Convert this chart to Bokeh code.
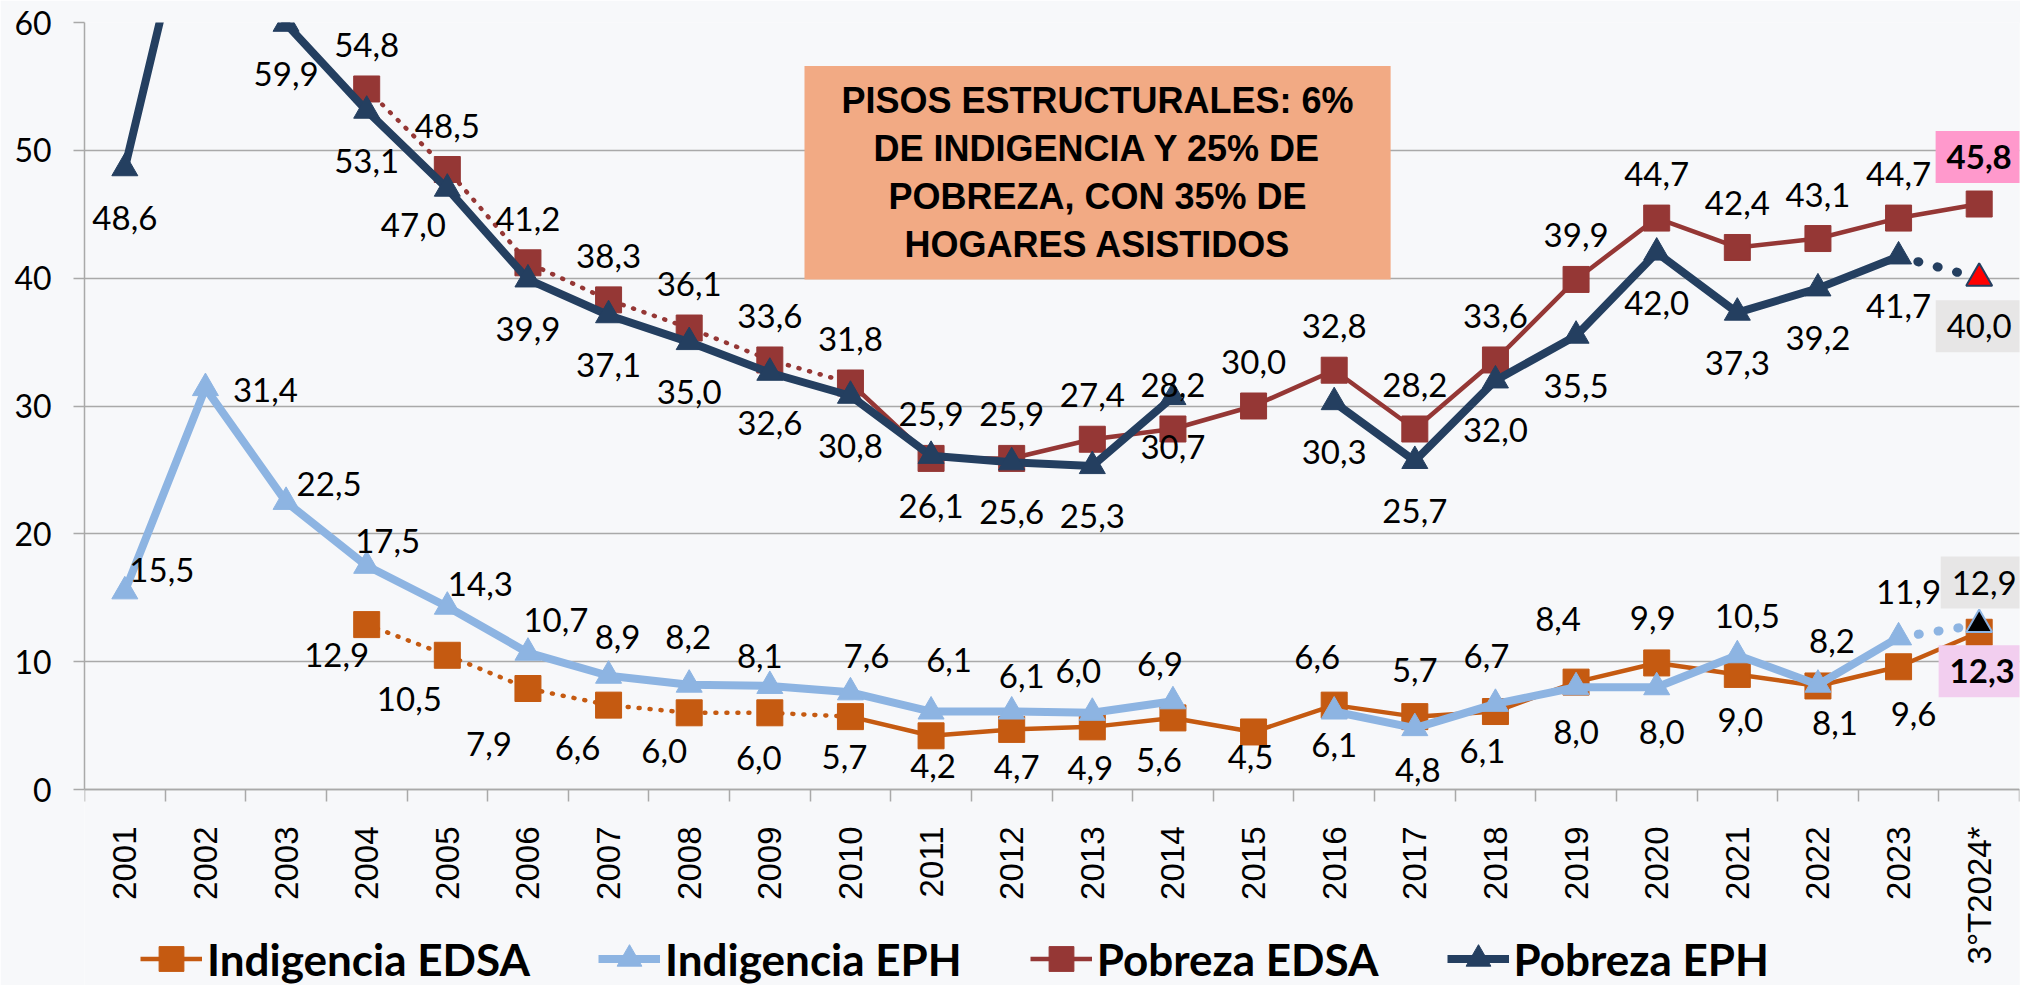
import math
from bokeh.plotting import figure
from bokeh.models import (ColumnDataSource, Range1d, FixedTicker, Legend, LegendItem,
                          Label, BoxAnnotation)
from bokeh.embed import file_html
from bokeh.resources import INLINE
from bokeh.core.properties import value

nan = float("nan")

# ---------------- data ----------------
categories = ["2001", "2002", "2003", "2004", "2005", "2006", "2007", "2008", "2009",
              "2010", "2011", "2012", "2013", "2014", "2015", "2016", "2017", "2018",
              "2019", "2020", "2021", "2022", "2023", "3°T2024*"]

indigencia_edsa = [nan, nan, nan, 12.9, 10.5, 7.9, 6.6, 6.0, 6.0, 5.7, 4.2, 4.7, 4.9, 5.6,
                   4.5, 6.6, 5.7, 6.1, 8.4, 9.9, 9.0, 8.1, 9.6, 12.3]
indigencia_eph = [15.5, 31.4, 22.5, 17.5, 14.3, 10.7, 8.9, 8.2, 8.1, 7.6, 6.1, 6.1, 6.0, 6.9,
                  nan, 6.1, 4.8, 6.7, 8.0, 8.0, 10.5, 8.2, 11.9, 12.9]
pobreza_edsa = [nan, nan, nan, 54.8, 48.5, 41.2, 38.3, 36.1, 33.6, 31.8, 25.9, 25.9, 27.4, 28.2,
                30.0, 32.8, 28.2, 33.6, 39.9, 44.7, 42.4, 43.1, 44.7, 45.8]
pobreza_eph = [48.6, 75.0, 59.9, 53.1, 47.0, 39.9, 37.1, 35.0, 32.6, 30.8, 26.1, 25.6, 25.3, 30.7,
               nan, 30.3, 25.7, 32.0, 35.5, 42.0, 37.3, 39.2, 41.7, 40.0]

y_ticks = list(range(0, 61, 10))
note_lines = ["PISOS ESTRUCTURALES: 6%", "DE INDIGENCIA Y 25% DE",
              "POBREZA, CON 35% DE", "HOGARES ASISTIDOS"]

# ---------------- styling / layout ----------------
BG = "#F7F8FA"
GRID = "#A9A9A9"
C_IND_EDSA = "#C55A11"
C_IND_EPH = "#8DB4E2"
C_POB_EDSA = "#953735"
C_POB_EPH = "#243F60"
LABEL_FONT = "Lato"
Y_MAX = y_ticks[-1]

FIG_W, FIG_H = 2020, 985
BORDER_L, BORDER_T, BORDER_R = 84, 22, 1
ZERO_PX = 789                       # pixel row of the value 0 (x axis)
Y_LO = -(FIG_H - ZERO_PX) * Y_MAX / (ZERO_PX - BORDER_T)   # room below axis for labels/legend

N = len(categories)
LAST = N - 1
xs = list(range(N))
SPLIT = categories.index("2010")      # EDSA old (dotted) / new (solid) series
PREV = LAST - 1                        # EPH projection (dotted) starts here

# label offsets in screen px (dx, dy; dy positive = down)
POB_EDSA_DEF = (0, -44)
POB_EPH_DEF = (0, 50)
POB_EPH_OVR = {4: (-34, 36)}
IND_EPH_OFF = {0: (37, -21), 1: (60, 2), 2: (43, -18), 3: (21, -25), 4: (33, -23),
               5: (28, -33), 6: (9, -39), 7: (-1, -48), 8: (-10, -30), 9: (16, -36),
               10: (18, -52), 11: (10, -36), 12: (-14, -42), 13: (-13, -37),
               15: (0, 33), 16: (3, 42), 17: (-9, -48), 18: (0, 45), 19: (5, 45),
               20: (10, -39), 21: (14, -44), 22: (10, -45)}
IND_EDSA_OFF = {3: (-30, 30), 4: (-38, 44), 5: (-39, 55), 6: (-31, 43), 7: (-25, 38),
                8: (-11, 45), 9: (-6, 40), 10: (2, 30), 11: (5, 38), 12: (-2, 41),
                13: (-14, 42), 14: (-3, 25), 15: (-17, -48), 16: (0, -47), 17: (-13, 39),
                18: (-18, -63), 19: (-4, -45), 20: (3, 46), 21: (17, 37), 22: (15, 47)}


def fmt(v):
    return f"{v:.1f}".replace(".", ",")


def seg(vals, a, b):
    return [v if a <= i <= b else nan for i, v in enumerate(vals)]


p = figure(width=FIG_W, height=FIG_H,
           x_range=Range1d(-0.5, N - 0.5), y_range=Range1d(Y_LO, Y_MAX),
           output_backend="svg", toolbar_location=None,
           min_border_left=BORDER_L, min_border_right=BORDER_R, min_border_top=BORDER_T,
           min_border_bottom=0,
           background_fill_color=BG, border_fill_color=BG, outline_line_color=None)

# axes
p.xaxis.fixed_location = 0
p.xaxis.ticker = FixedTicker(ticks=xs, minor_ticks=[i - 0.5 for i in range(N + 1)])
p.xaxis.major_label_overrides = {i: c for i, c in enumerate(categories)}
p.xaxis.major_label_orientation = math.pi / 2
p.xaxis.major_label_text_font = "Liberation Sans"
p.xaxis.major_label_text_font_size = "33px"
p.xaxis.major_label_text_color = "black"
p.xaxis.major_label_standoff = 25
p.xaxis.major_tick_line_color = None
p.xaxis.major_tick_out = 0
p.xaxis.major_tick_in = 0
p.xaxis.minor_tick_line_color = GRID
p.xaxis.minor_tick_line_width = 1.5
p.xaxis.minor_tick_out = 12
p.xaxis.minor_tick_in = 0
p.xaxis.axis_line_color = GRID
p.xaxis.axis_line_width = 1.5

p.yaxis.bounds = (0, Y_MAX)
p.yaxis.ticker = FixedTicker(ticks=y_ticks)
p.yaxis.major_label_text_font = LABEL_FONT
p.yaxis.major_label_text_font_size = "32px"
p.yaxis.major_label_text_color = "black"
p.yaxis.major_label_standoff = 22
p.yaxis.major_tick_line_color = GRID
p.yaxis.major_tick_line_width = 1.5
p.yaxis.major_tick_out = 11
p.yaxis.major_tick_in = 0
p.yaxis.minor_tick_line_color = None
p.yaxis.axis_line_color = GRID
p.yaxis.axis_line_width = 1.5

p.xgrid.grid_line_color = None
p.ygrid.ticker = FixedTicker(ticks=y_ticks)
p.ygrid.grid_line_color = GRID
p.ygrid.grid_line_width = 1.5

# ---------------- series ----------------
def edsa_series(vals, color):
    old = p.line(xs, seg(vals, 0, SPLIT), line_color=color, line_width=4.5,
                 line_dash="1 10", line_cap="round")
    new = p.line(xs, seg(vals, SPLIT, LAST), line_color=color, line_width=4.5,
                 line_join="round")
    mk = p.scatter(xs, vals, marker="square", size=26, fill_color=color, line_color=color)
    return [new, mk]


def eph_series(vals, color, last_fill):
    main = p.line(xs, seg(vals, 0, PREV), line_color=color, line_width=8, line_join="round")
    proj = p.line(xs, seg(vals, PREV, LAST), line_color=color, line_width=9,
                  line_dash="1 19", line_cap="round")
    main_pts = seg(vals, 0, PREV)
    mk = p.scatter(xs, main_pts, marker="triangle", size=26, fill_color=color, line_color=color)
    p.scatter([xs[LAST]], [vals[LAST]], marker="triangle", size=26, fill_color=last_fill,
              line_color=color, line_width=2)
    return [main, mk]


r_pob_edsa = edsa_series(pobreza_edsa, C_POB_EDSA)
r_pob_eph = eph_series(pobreza_eph, C_POB_EPH, "#FF0000")
r_ind_edsa = edsa_series(indigencia_edsa, C_IND_EDSA)
r_ind_eph = eph_series(indigencia_eph, C_IND_EPH, "#000000")

# ---------------- data labels ----------------
lx, ly, lt, ldx, ldy = [], [], [], [], []


def add_labels(vals, off):
    for i, v in enumerate(vals):
        if math.isnan(v) or v > Y_MAX or i == LAST:
            continue
        dx, dy = off(i)
        lx.append(xs[i]); ly.append(v); lt.append(fmt(v)); ldx.append(dx); ldy.append(dy)


add_labels(pobreza_edsa, lambda i: POB_EDSA_DEF)
add_labels(pobreza_eph, lambda i: POB_EPH_OVR.get(i, POB_EPH_DEF))
add_labels(indigencia_eph, lambda i: IND_EPH_OFF.get(i, (0, -40)))
add_labels(indigencia_edsa, lambda i: IND_EDSA_OFF.get(i, (0, 40)))

src = ColumnDataSource(dict(x=lx, y=ly, text=lt, dx=ldx, dy=ldy))
p.text(x="x", y="y", text="text", x_offset="dx", y_offset="dy", source=src,
       text_font=value(LABEL_FONT), text_font_size="33px", text_color="black",
       text_align="center", text_baseline="middle")

# boxed labels for the last period
def boxed(v, dy_up, bold, fill, dx=0):
    p.add_layout(Label(x=xs[LAST], y=v, text=fmt(v), x_offset=dx, y_offset=dy_up,
                       text_font=LABEL_FONT, text_font_size="33px",
                       text_font_style="bold" if bold else "normal", text_color="black",
                       text_align="center", text_baseline="middle",
                       background_fill_color=fill, background_fill_alpha=1.0,
                       padding=(11, 14)))


boxed(pobreza_edsa[LAST], 47, True, "#FF99CC")
boxed(pobreza_eph[LAST], -48, False, "#E7E6E6")
boxed(indigencia_eph[LAST], 42, False, "#E7E6E6", dx=5)
boxed(indigencia_edsa[LAST], -39, True, "#F2CEEF", dx=3)

# ---------------- note box ----------------
box_l, box_r, box_b, box_t = 8.43, 15.70, 39.9, 56.6
p.add_layout(BoxAnnotation(left=box_l, right=box_r, bottom=box_b, top=box_t,
                           fill_color="#F2AA84", fill_alpha=1.0, line_color=None))
cx, cy = (box_l + box_r) / 2, (box_b + box_t) / 2
for k, line in enumerate(note_lines):
    p.add_layout(Label(x=cx, y=cy, text=line, y_offset=72 - 48 * k,
                       text_font="Liberation Sans", text_font_size="36px",
                       text_font_style="bold", text_color="black",
                       text_align="center", text_baseline="middle"))

# ---------------- legend ----------------
legend = Legend(items=[LegendItem(label="Indigencia EDSA", renderers=r_ind_edsa),
                       LegendItem(label="Indigencia EPH", renderers=r_ind_eph),
                       LegendItem(label="Pobreza EDSA", renderers=r_pob_edsa),
                       LegendItem(label="Pobreza EPH", renderers=r_pob_eph)],
                orientation="horizontal", location=(56, -6),
                spacing=68, glyph_width=62, glyph_height=65, label_standoff=5,
                padding=0, margin=0, border_line_color=None, background_fill_alpha=0,
                label_text_font=LABEL_FONT, label_text_font_size="44px",
                label_text_font_style="bold", label_text_color="black")
p.add_layout(legend)

open("out.html", "w").write(file_html(p, INLINE))
